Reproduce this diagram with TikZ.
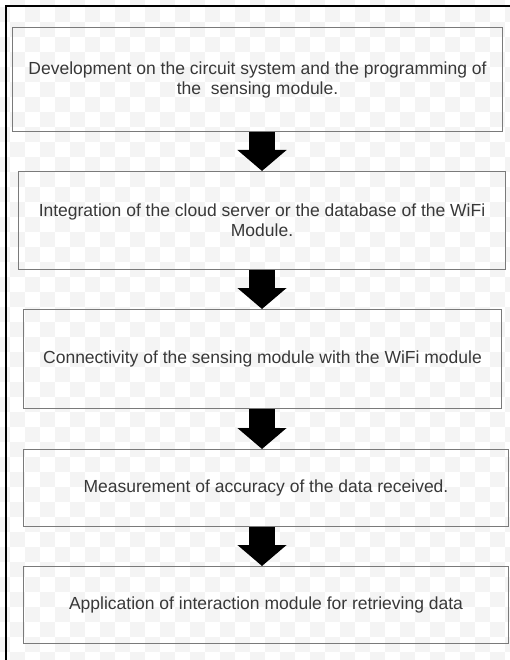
\documentclass[tikz,border=0pt]{standalone}
\usepackage{fontspec}
\setmainfont{Liberation Sans}
\usetikzlibrary{arrows.meta}
\definecolor{txt}{HTML}{383838}
\definecolor{edge}{HTML}{7A7A7A}
\definecolor{tile}{HTML}{F4F4F4}
\begin{document}
\begin{tikzpicture}[x=1pt,y=-1pt,
  stepbox/.style={draw=edge, line width=1pt, text=txt,
    font=\fontsize{17.5}{20}\selectfont, align=center,
    inner sep=0pt, anchor=north west},
  flow/.style={black, line width=26pt,
    -{Triangle[width=48pt,length=21pt]}}]
\useasboundingbox (0,0) rectangle (510,660);

% faint checkerboard backdrop
\begin{scope}
\clip (0,0) rectangle (510,660);
\foreach \i in {0,...,35} {
  \foreach \j in {0,...,45} {
    \ifodd\numexpr\i+\j\relax
      \fill[tile] (15*\i-5,15*\j-8) rectangle +(15,15);
    \fi
  }
}
\end{scope}

% frame lines along top and left
\draw[line width=2pt] (6,660) -- (6,6) -- (510,6);

% process steps
\node[stepbox, minimum width=490pt, minimum height=104pt] (s1) at (12,27)
  {Development on the circuit system and the programming of\\the\ \ sensing module.};
\node[stepbox, minimum width=487pt, minimum height=98pt] (s2) at (18,171)
  {Integration of the cloud server or the database of the WiFi\\Module.};
\node[stepbox, minimum width=478pt, minimum height=99pt] (s3) at (23,309)
  {Connectivity of the sensing module with the WiFi module};
\node[stepbox, minimum width=485pt, minimum height=77pt] (s4) at (23,449)
  {Measurement of accuracy of the data received.};
\node[stepbox, minimum width=485pt, minimum height=77pt] (s5) at (23,566)
  {Application of interaction module for retrieving data};

% block arrows between the steps
\coordinate (ax) at (262,0);
\draw[flow] (s1.south -| ax) -- (s2.north -| ax);
\draw[flow] (s2.south -| ax) -- (s3.north -| ax);
\draw[flow] (s3.south -| ax) -- (s4.north -| ax);
\draw[flow] (s4.south -| ax) -- (s5.north -| ax);
\end{tikzpicture}
\end{document}
